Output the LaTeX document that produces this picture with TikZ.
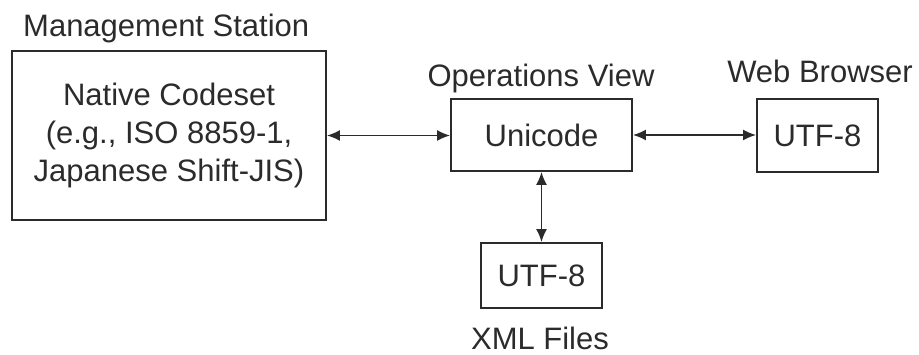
\documentclass[tikz,border=0pt]{standalone}
\usepackage{fontspec}
\setmainfont{Liberation Sans}
\usetikzlibrary{arrows.meta}
\definecolor{ink}{HTML}{2B2B2B}
\tikzset{
  box/.style={draw=ink, line width=1.8pt, rectangle, inner sep=0pt, align=center,
    font=\fontsize{31}{38}\selectfont, text=ink},
  caption/.style={inner sep=0pt, font=\fontsize{31}{38}\selectfont, text=ink},
  link/.style={draw=ink, line width=1.8pt, {Latex[length=13pt,width=11pt]}-{Latex[length=13pt,width=11pt]}}
}
\begin{document}
\begin{tikzpicture}[x=1pt,y=-1pt]
  \useasboundingbox (0,0) rectangle (919,355);
  % boxes
  \node[box, minimum width=314pt, minimum height=169pt] (native) at (169,135.5)
    {Native Codeset\\(e.g., ISO 8859-1,\\Japanese Shift-JIS)};
  \node[box, minimum width=181pt, minimum height=72pt] (uni) at (541.5,135) {Unicode};
  \node[box, minimum width=121pt, minimum height=73pt] (web) at (817.5,135.5) {UTF-8};
  \node[box, minimum width=121pt, minimum height=65pt] (xml) at (541.5,275.5) {UTF-8};
  % captions
  \node[caption, anchor=base west] (capms) at (23,37) {Management Station};
  \node[caption, anchor=base] (capov) at (541,87) {Operations View};
  \node[caption, anchor=base] (capwb) at (820,83) {Web Browser};
  \node[caption, anchor=base] (capxml) at (540,350) {XML Files};
  % connectors
  \draw[link] (native.east) -- (native.east -| uni.west);
  \draw[link] (uni.east) -- (uni.east -| web.west);
  \draw[link] (uni.south) -- (xml.north);
\end{tikzpicture}
\end{document}
